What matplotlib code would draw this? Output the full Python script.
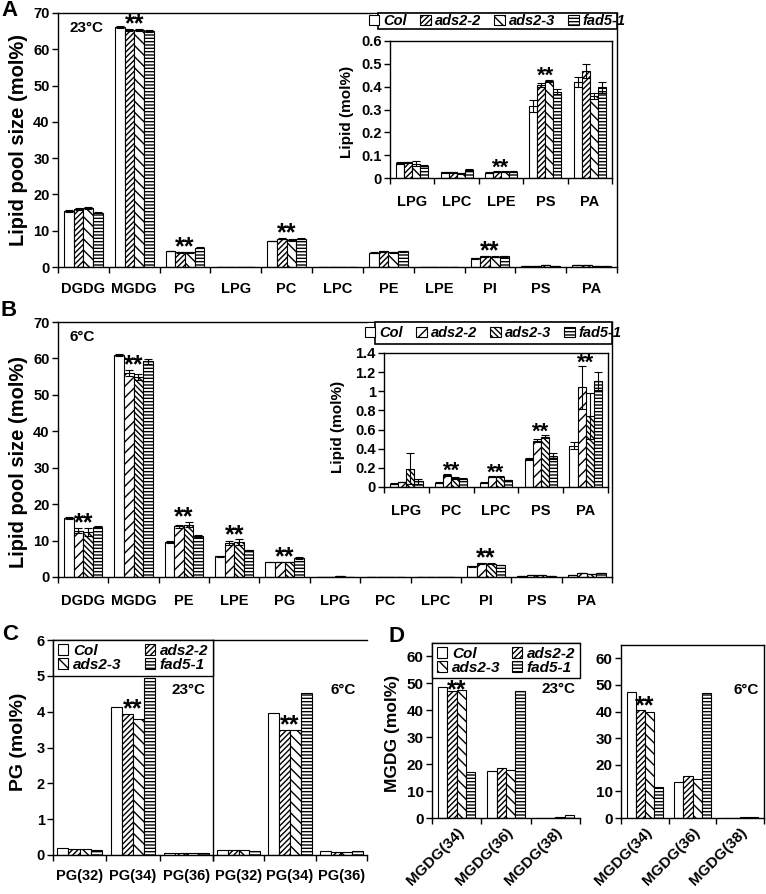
import numpy as np
import matplotlib
matplotlib.use('Agg')
import matplotlib.pyplot as plt
from matplotlib.patches import Rectangle
from matplotlib.ticker import NullFormatter

W, H = 766, 894
plt.rcParams.update({
    'font.family': ['Liberation Sans', 'DejaVu Sans'],
    'font.weight': 'bold',
    'axes.linewidth': 1.0,
    'hatch.linewidth': 1.0,
    'xtick.direction': 'out',
    'ytick.direction': 'out',
})

genotypes = ['Col', 'ads2-2', 'ads2-3', 'fad5-1']

# ---------------- Panel A (23 C) ----------------
a_cats = ['DGDG', 'MGDG', 'PG', 'LPG', 'PC', 'LPC', 'PE', 'LPE', 'PI', 'PS', 'PA']
a_col = [15.4, 66.1, 4.4, 0.066, 7.2, 0.026, 3.95, 0.023, 2.4, 0.316, 0.42]
a_ads22 = [16.0, 65.3, 4.0, 0.069, 7.8, 0.026, 4.3, 0.027, 2.9, 0.407, 0.47]
a_ads23 = [16.3, 65.3, 4.0, 0.063, 7.5, 0.02, 4.0, 0.027, 2.8, 0.426, 0.36]
a_fad51 = [15.0, 65.1, 5.3, 0.054, 7.8, 0.036, 4.3, 0.027, 2.9, 0.378, 0.397]
a_col_err = [0.2, 0.3, 0.1, 0, 0.1, 0, 0.1, 0, 0.1, 0, 0]
a_ads22_err = [0.2, 0.2, 0.1, 0, 0.2, 0, 0.1, 0, 0.1, 0, 0]
a_ads23_err = [0.3, 0.3, 0.1, 0, 0.2, 0, 0.1, 0, 0.1, 0, 0]
a_fad51_err = [0.2, 0.3, 0.1, 0, 0.1, 0, 0.1, 0, 0.1, 0, 0]
a_stars = ['MGDG', 'PG', 'PC', 'PI']

a_in_cats = ['LPG', 'LPC', 'LPE', 'PS', 'PA']
a_in_col = [0.066, 0.026, 0.023, 0.316, 0.42]
a_in_ads22 = [0.069, 0.026, 0.027, 0.407, 0.47]
a_in_ads23 = [0.063, 0.02, 0.027, 0.426, 0.36]
a_in_fad51 = [0.054, 0.036, 0.027, 0.378, 0.397]
a_in_col_err = [0.003, 0.002, 0.002, 0.025, 0.022]
a_in_ads22_err = [0.003, 0.002, 0.002, 0.008, 0.03]
a_in_ads23_err = [0.012, 0.002, 0.002, 0.004, 0.012]
a_in_fad51_err = [0.003, 0.003, 0.002, 0.012, 0.025]
a_in_stars = ['LPE', 'PS']
a_in_ticks = [0, 0.1, 0.2, 0.3, 0.4, 0.5, 0.6]
a_in_ticklabels = ['0', '0.1', '0.2', '0.3', '0.4', '0.5', '0.6']

# ---------------- Panel B (6 C) ----------------
b_cats = ['DGDG', 'MGDG', 'PE', 'LPE', 'PG', 'LPG', 'PC', 'LPC', 'PI', 'PS', 'PA']
b_col = [16.2, 61.0, 9.6, 5.7, 4.1, 0.035, 0.046, 0.046, 2.9, 0.288, 0.43]
b_ads22 = [12.7, 56.0, 13.9, 9.3, 4.1, 0.053, 0.123, 0.105, 3.8, 0.484, 1.04]
b_ads23 = [12.3, 54.9, 14.4, 9.6, 4.1, 0.193, 0.095, 0.105, 3.7, 0.526, 0.737]
b_fad51 = [13.7, 59.2, 11.2, 7.3, 5.2, 0.06, 0.084, 0.07, 3.3, 0.323, 1.105]
b_col_err = [0.2, 0.3, 0.2, 0.2, 0.1, 0, 0, 0, 0.1, 0, 0]
b_ads22_err = [0.7, 0.8, 0.5, 0.6, 0.1, 0, 0, 0, 0.1, 0, 0]
b_ads23_err = [1.1, 0.9, 0.8, 0.7, 0.1, 0, 0, 0, 0.1, 0, 0]
b_fad51_err = [0.3, 0.6, 0.2, 0.2, 0.2, 0, 0, 0, 0.1, 0, 0]
b_stars = ['DGDG', 'MGDG', 'PE', 'LPE', 'PG', 'PI']

b_in_cats = ['LPG', 'PC', 'LPC', 'PS', 'PA']
b_in_col = [0.035, 0.046, 0.046, 0.288, 0.43]
b_in_ads22 = [0.053, 0.123, 0.105, 0.484, 1.04]
b_in_ads23 = [0.193, 0.095, 0.105, 0.526, 0.737]
b_in_fad51 = [0.06, 0.084, 0.07, 0.323, 1.105]
b_in_col_err = [0.004, 0.005, 0.004, 0.01, 0.035]
b_in_ads22_err = [0.004, 0.01, 0.005, 0.018, 0.22]
b_in_ads23_err = [0.165, 0.01, 0.005, 0.015, 0.24]
b_in_fad51_err = [0.028, 0.005, 0.005, 0.03, 0.095]
b_in_stars = ['PC', 'LPC', 'PS', 'PA']
b_in_ticks = [0, 0.2, 0.4, 0.6, 0.8, 1.0, 1.2, 1.4]
b_in_ticklabels = ['0', '0.2', '0.4', '0.6', '0.8', '1', '1.2', '1.4']

# ---------------- Panel C (PG species) ----------------
c_cats = ['PG(32)', 'PG(34)', 'PG(36)']
c23_col = [0.19, 4.13, 0.06]
c23_ads22 = [0.18, 3.93, 0.06]
c23_ads23 = [0.18, 3.79, 0.06]
c23_fad51 = [0.14, 4.94, 0.06]
c6_col = [0.13, 3.95, 0.1]
c6_ads22 = [0.15, 3.5, 0.08]
c6_ads23 = [0.15, 3.5, 0.08]
c6_fad51 = [0.12, 4.51, 0.1]
c_stars = ['PG(34)']

# ---------------- Panel D (MGDG species) ----------------
d_cats = ['MGDG(34)', 'MGDG(36)', 'MGDG(38)']
d23_col = [48.7, 17.5, 0.1]
d23_ads22 = [47.0, 18.5, 0.1]
d23_ads23 = [47.6, 18.0, 0.5]
d23_fad51 = [17.0, 47.3, 1.0]
d6_col = [47.3, 13.4, 0.1]
d6_ads22 = [40.4, 15.7, 0.1]
d6_ads23 = [39.9, 14.7, 0.5]
d6_fad51 = [11.7, 47.0, 0.5]
d_stars = ['MGDG(34)']

HATCH_1 = ['', '//////', '\\\\\\', '-----']   # A, C, D
HATCH_2 = ['', '///', '\\\\\\\\\\\\', '-----']  # B

TICK = 10.5
STAR = 18


def rect(l, t, r, b):
    return [l / W, 1 - b / H, (r - l) / W, (b - t) / H]


fig = plt.figure(figsize=(W / 100, H / 100), dpi=100)


def draw_bars(ax, cats, series, errs, hatches, width=0.19, stars=(), star_size=STAR,
              star_dy=None):
    x = np.arange(len(cats))
    conts = []
    for i, vals in enumerate(series):
        pos = x + (i - 1.5) * width
        err = errs[i] if errs is not None else None
        c = ax.bar(pos, vals, width, facecolor='white', edgecolor='black',
                   hatch=hatches[i], linewidth=0.8, yerr=err,
                   error_kw=dict(ecolor='black', elinewidth=0.8, capsize=3, capthick=0.8),
                   label=genotypes[i], zorder=2)
        conts.append(c)
    if star_dy is None:
        star_dy = -0.1 * star_size
    for s in stars:
        k = cats.index(s)
        tops = []
        for i in (1, 2):
            e = errs[i][k] if errs is not None else 0
            tops.append(series[i][k] + e)
        ax.annotate('**', xy=(x[k], max(tops)), xytext=(0, star_dy),
                    textcoords='offset points', ha='center', va='baseline',
                    fontsize=star_size, fontweight='bold', zorder=5, annotation_clip=False)
    ax.set_xlim(-0.5, len(cats) - 0.5)
    ax.set_xticks(np.arange(len(cats) + 1) - 0.5)
    ax.xaxis.set_major_formatter(NullFormatter())
    ax.set_xticks(x, minor=True)
    ax.set_xticklabels(cats, minor=True)
    ax.tick_params(axis='x', which='major', length=4, width=1)
    ax.tick_params(axis='x', which='minor', length=0)
    ax.tick_params(axis='y', length=4, width=1)
    return conts


# ================= Panel A =================
axA = fig.add_axes(rect(58, 13, 617, 267), zorder=0)
axA.set_ylim(0, 70)
axA.set_yticks(range(0, 71, 10))
conts = draw_bars(axA, a_cats, [a_col, a_ads22, a_ads23, a_fad51],
                  [a_col_err, a_ads22_err, a_ads23_err, a_fad51_err], HATCH_1, stars=a_stars)
axA.set_ylim(0, 70)
axA.tick_params(axis='x', which='minor', pad=11, labelsize=TICK)
axA.tick_params(axis='y', labelsize=TICK, pad=2)
fig.text(19 / W, 1 - 140 / H, 'Lipid pool size (mol%)', rotation=90, ha='center', va='center',
         fontsize=14.5, fontweight='bold')
fig.text(70 / W, 1 - 28 / H, '23°C', ha='left', va='center', fontsize=11, fontweight='bold')
fig.text(9 / W, 1 - 11 / H, 'A', ha='center', va='center', fontsize=16, fontweight='bold')

# white cover + legend box + inset
fig.add_artist(Rectangle((372 / W, 1 - 208 / H), (615 - 372) / W, (208 - 14) / H,
                         transform=fig.transFigure, facecolor='white', edgecolor='none', zorder=1))
fig.add_artist(Rectangle((378 / W, 1 - 29 / H), (617 - 378) / W, (29 - 13) / H,
                         transform=fig.transFigure, facecolor='white', edgecolor='black',
                         linewidth=1.2, zorder=2))
axAi = fig.add_axes(rect(390, 41, 612, 178), zorder=3)
axAi.set_ylim(0, 0.6)
conts_ai = draw_bars(axAi, a_in_cats, [a_in_col, a_in_ads22, a_in_ads23, a_in_fad51],
                     [a_in_col_err, a_in_ads22_err, a_in_ads23_err, a_in_fad51_err], HATCH_1,
                     width=0.18, stars=a_in_stars, star_size=16)
axAi.set_ylim(0, 0.6)
axAi.set_yticks(a_in_ticks)
axAi.set_yticklabels(a_in_ticklabels)
axAi.tick_params(axis='x', which='minor', pad=12, labelsize=TICK)
axAi.tick_params(axis='y', labelsize=TICK, pad=2)
fig.text(347 / W, 1 - 112 / H, 'Lipid (mol%)', rotation=90, ha='center', va='center',
         fontsize=11, fontweight='bold')
legA = fig.legend(handles=conts_ai, labels=genotypes, loc='center', ncol=4,
                  bbox_to_anchor=(497.5 / W, 1 - 21 / H), frameon=False,
                  prop=dict(weight='bold', style='italic', size=10.5),
                  handlelength=0.7, handleheight=0.7, handletextpad=0.3, columnspacing=0.9,
                  borderpad=0)
legA.set_zorder(6)

# ================= Panel B =================
axB = fig.add_axes(rect(58, 322, 612, 577), zorder=0)
axB.set_ylim(0, 70)
draw_bars(axB, b_cats, [b_col, b_ads22, b_ads23, b_fad51],
          [b_col_err, b_ads22_err, b_ads23_err, b_fad51_err], HATCH_2, stars=b_stars)
axB.set_ylim(0, 70)
axB.set_yticks(range(0, 71, 10))
axB.tick_params(axis='x', which='minor', pad=12, labelsize=TICK)
axB.tick_params(axis='y', labelsize=TICK, pad=2)
fig.text(19 / W, 1 - 462 / H, 'Lipid pool size (mol%)', rotation=90, ha='center', va='center',
         fontsize=14.5, fontweight='bold')
fig.text(70 / W, 1 - 337 / H, '6°C', ha='left', va='center', fontsize=11, fontweight='bold')
fig.text(9 / W, 1 - 311 / H, 'B', ha='center', va='center', fontsize=16, fontweight='bold')

fig.add_artist(Rectangle((368 / W, 1 - 518 / H), (611 - 368) / W, (518 - 323) / H,
                         transform=fig.transFigure, facecolor='white', edgecolor='none', zorder=1))
fig.add_artist(Rectangle((375 / W, 1 - 344 / H), (612 - 375) / W, (344 - 322) / H,
                         transform=fig.transFigure, facecolor='white', edgecolor='black',
                         linewidth=1.2, zorder=2))
axBi = fig.add_axes(rect(384, 353, 608, 487), zorder=3)
axBi.set_ylim(0, 1.4)
conts_bi = draw_bars(axBi, b_in_cats, [b_in_col, b_in_ads22, b_in_ads23, b_in_fad51],
                     [b_in_col_err, b_in_ads22_err, b_in_ads23_err, b_in_fad51_err], HATCH_2,
                     width=0.18, stars=b_in_stars, star_size=16)
axBi.set_ylim(0, 1.4)
axBi.set_yticks(b_in_ticks)
axBi.set_yticklabels(b_in_ticklabels)
axBi.tick_params(axis='x', which='minor', pad=12, labelsize=TICK)
axBi.tick_params(axis='y', labelsize=TICK, pad=2)
fig.text(338 / W, 1 - 427 / H, 'Lipid (mol%)', rotation=90, ha='center', va='center',
         fontsize=11, fontweight='bold')
legB = fig.legend(handles=conts_bi, labels=genotypes, loc='center', ncol=4,
                  bbox_to_anchor=(493.5 / W, 1 - 333 / H), frameon=False,
                  prop=dict(weight='bold', style='italic', size=10.5),
                  handlelength=0.7, handleheight=0.7, handletextpad=0.3, columnspacing=0.9,
                  borderpad=0)
legB.set_zorder(6)

# ================= Panel C =================
axC1 = fig.add_axes(rect(53, 640, 213, 855))
axC2 = fig.add_axes(rect(213, 640, 367, 855))
for ax in (axC1, axC2):
    ax.set_ylim(0, 6)
contsC = draw_bars(axC1, c_cats, [c23_col, c23_ads22, c23_ads23, c23_fad51], None, HATCH_1,
                   width=0.21, stars=c_stars)
draw_bars(axC2, c_cats, [c6_col, c6_ads22, c6_ads23, c6_fad51], None, HATCH_1,
          width=0.21, stars=c_stars)
for ax in (axC1, axC2):
    ax.set_ylim(0, 6)
    ax.tick_params(axis='x', which='minor', pad=10, labelsize=TICK)
axC1.set_yticks(range(0, 7))
axC1.tick_params(axis='y', labelsize=TICK, pad=2)
axC2.set_yticks([])
axC2.spines['right'].set_visible(False)
axC1.spines['right'].set_visible(False)
fig.text(19 / W, 1 - 742 / H, 'PG (mol%)', rotation=90, ha='center', va='center',
         fontsize=14, fontweight='bold')
fig.text(206 / W, 1 - 690 / H, '23°C', ha='right', va='center', fontsize=11, fontweight='bold')
fig.text(356 / W, 1 - 690 / H, '6°C', ha='right', va='center', fontsize=11, fontweight='bold')
fig.text(10 / W, 1 - 635 / H, 'C', ha='center', va='center', fontsize=16, fontweight='bold')
fig.add_artist(Rectangle((53 / W, 1 - 676 / H), (213 - 53) / W, (676 - 640) / H,
                         transform=fig.transFigure, facecolor='white', edgecolor='black',
                         linewidth=1.0, zorder=2))
order = [0, 2, 1, 3]
legC = fig.legend(handles=[contsC[i] for i in order], labels=[genotypes[i] for i in order],
                  loc='center', ncol=2, bbox_to_anchor=(53 / W, 1 - 676 / H, 160 / W, 36 / H),
                  mode='expand', frameon=False,
                  prop=dict(weight='bold', style='italic', size=11),
                  handlelength=0.7, handleheight=0.7, handletextpad=0.3,
                  labelspacing=0.0, borderpad=0.3, borderaxespad=0)
legC.set_zorder(6)

# ================= Panel D =================
axD1 = fig.add_axes(rect(432, 643, 580, 818))
axD2 = fig.add_axes(rect(621, 645, 764, 818))
for ax in (axD1, axD2):
    ax.set_ylim(0, 65)
contsD = draw_bars(axD1, d_cats, [d23_col, d23_ads22, d23_ads23, d23_fad51], None, HATCH_1,
                   width=0.19, stars=d_stars, star_dy=-5.5)
draw_bars(axD2, d_cats, [d6_col, d6_ads22, d6_ads23, d6_fad51], None, HATCH_1,
          width=0.19, stars=d_stars)
for ax in (axD1, axD2):
    ax.set_ylim(0, 65)
    ax.set_yticks(range(0, 61, 10))
    ax.tick_params(axis='y', labelsize=11, pad=2)
    ax.tick_params(axis='x', which='minor', pad=5, labelsize=11)
    for lab in ax.get_xticklabels(minor=True):
        lab.set_rotation(45)
        lab.set_ha('right')
        lab.set_rotation_mode('anchor')
axD1.spines['right'].set_visible(False)
fig.text(392 / W, 1 - 733 / H, 'MGDG (mol%)', rotation=90, ha='center', va='center',
         fontsize=12.5, fontweight='bold')
fig.text(575 / W, 1 - 689 / H, '23°C', ha='right', va='center', fontsize=11, fontweight='bold')
fig.text(759 / W, 1 - 690 / H, '6°C', ha='right', va='center', fontsize=11, fontweight='bold')
fig.text(397 / W, 1 - 637 / H, 'D', ha='center', va='center', fontsize=16, fontweight='bold')
fig.add_artist(Rectangle((432 / W, 1 - 678 / H), (580 - 432) / W, (678 - 643) / H,
                         transform=fig.transFigure, facecolor='white', edgecolor='black',
                         linewidth=1.0, zorder=2))
legD = fig.legend(handles=[contsD[i] for i in order], labels=[genotypes[i] for i in order],
                  loc='center', ncol=2, bbox_to_anchor=(432 / W, 1 - 678 / H, 148 / W, 35 / H),
                  mode='expand', frameon=False,
                  prop=dict(weight='bold', style='italic', size=11),
                  handlelength=0.7, handleheight=0.7, handletextpad=0.3,
                  labelspacing=0.0, borderpad=0.3, borderaxespad=0)
legD.set_zorder(6)

fig.savefig('out.png', dpi=100)
